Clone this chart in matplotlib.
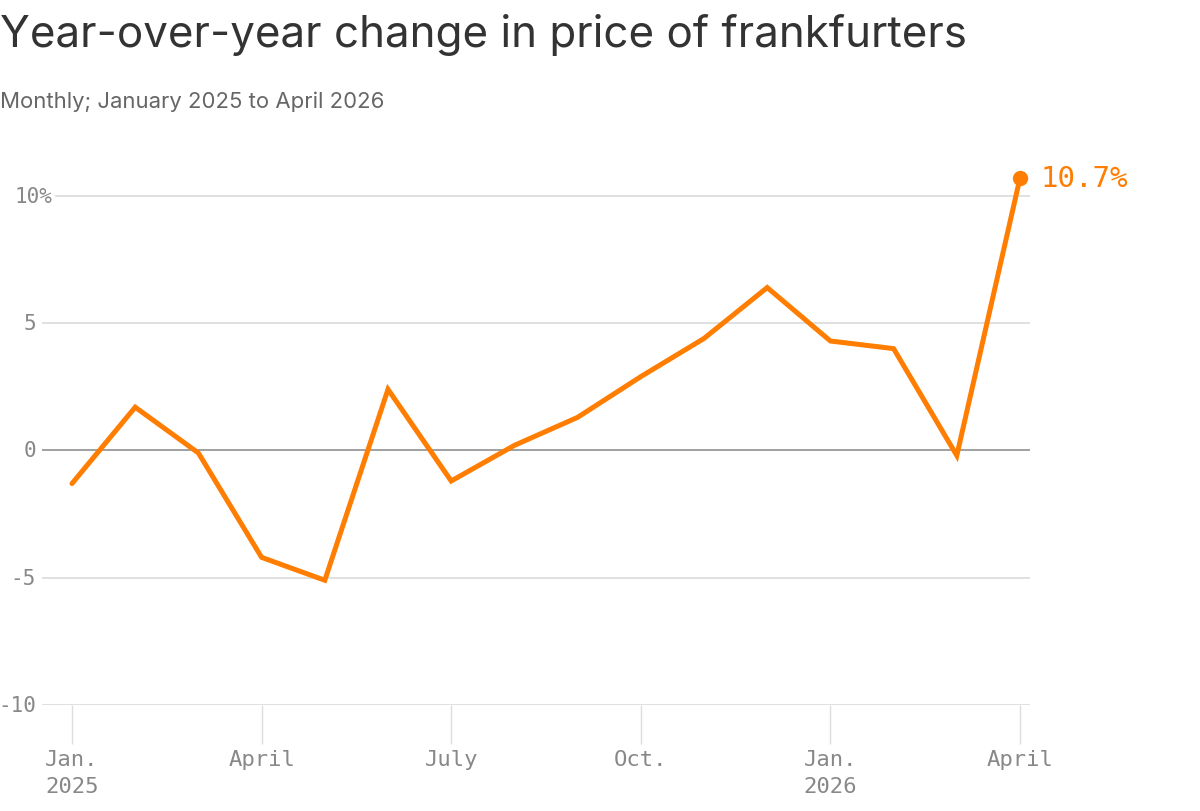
import matplotlib
matplotlib.use("Agg")
import matplotlib.pyplot as plt
import matplotlib.transforms as mtransforms

# ---- data ----
months = ["Jan. 2025", "Feb. 2025", "Mar. 2025", "Apr. 2025", "May 2025", "Jun. 2025",
          "Jul. 2025", "Aug. 2025", "Sep. 2025", "Oct. 2025", "Nov. 2025", "Dec. 2025",
          "Jan. 2026", "Feb. 2026", "Mar. 2026", "Apr. 2026"]
yoy_change = [-1.3, 1.7, -0.1, -4.2, -5.1, 2.4, -1.2, 0.2, 1.3, 2.9, 4.4, 6.4,
              4.3, 4.0, -0.2, 10.7]
xtick_pos = [0, 3, 6, 9, 12, 15]
xtick_labels = ["Jan.\n2025", "April", "July", "Oct.", "Jan.\n2026", "April"]
ytick_vals = [10, 5, 0, -5, -10]
ytick_labels = ["10%", "5", "0", "-5", "-10"]
end_label = "10.7%"

ORANGE = "#FF7D00"
MONO = ["DejaVu Sans Mono"]

fig = plt.figure(figsize=(12, 8.12), dpi=100)
W, H = 1200, 812
ax_left, ax_right, ax_top, ax_bot = 42, 1030, 146, 706
ax = fig.add_axes([ax_left / W, 1 - ax_bot / H, (ax_right - ax_left) / W, (ax_bot - ax_top) / H])

x = list(range(len(months)))
px_per_month = (1020 - 72) / 15
ax.set_xlim(-(72 - ax_left) / px_per_month, 15 + (ax_right - 1020) / px_per_month)
ax.set_ylim(-10, 12)

for s in ax.spines.values():
    s.set_visible(False)

# gridlines
for v in ytick_vals:
    if v == 0:
        continue
    xmin = (56 - ax_left) / (ax_right - ax_left) if v == 10 else 0
    ax.axhline(v, xmin=xmin, xmax=1, color="#dddddd", lw=1.3, zorder=1)
ax.axhline(0, color="#999999", lw=1.3, zorder=2)

# y labels
ax.set_yticks([])
trans = mtransforms.blended_transform_factory(ax.transAxes, ax.transData)
for v, lab in zip(ytick_vals, ytick_labels):
    if lab.endswith("%"):
        xr = (52 - ax_left) / (ax_right - ax_left)
    else:
        xr = (36 - ax_left) / (ax_right - ax_left)
    ax.text(xr, v, lab, transform=trans, ha="right", va="center",
            fontsize=15, color="#888888", family=MONO)

# x ticks
ax.set_xticks(xtick_pos)
ax.set_xticklabels(xtick_labels, family=MONO, fontsize=16, color="#888888", linespacing=1.4)
ax.tick_params(axis="x", length=28, width=1.0, color="#dddddd", pad=4)

# line
ax.plot(x, yoy_change, color=ORANGE, lw=3.6, solid_joinstyle="miter", solid_capstyle="round", zorder=3)
ax.plot([x[-1]], [yoy_change[-1]], "o", color=ORANGE, ms=10, zorder=4, clip_on=False)
ax.annotate(end_label, xy=(x[-1], yoy_change[-1]), xytext=(15, 0), textcoords="offset points",
            ha="left", va="center", fontsize=21, color=ORANGE, family=MONO, annotation_clip=False)

# titles
fig.text(0 / W, 1 - 47 / H, "Year-over-year change in price of frankfurters",
         fontsize=31.6, color="#333333", family=["Inter", "DejaVu Sans"], ha="left", va="baseline")
fig.text(0 / W, 1 - 108 / H, "Monthly; January 2025 to April 2026",
         fontsize=15.9, color="#666666", family=["Inter", "DejaVu Sans"], ha="left", va="baseline")

fig.savefig("out.png", dpi=100, facecolor="white")
